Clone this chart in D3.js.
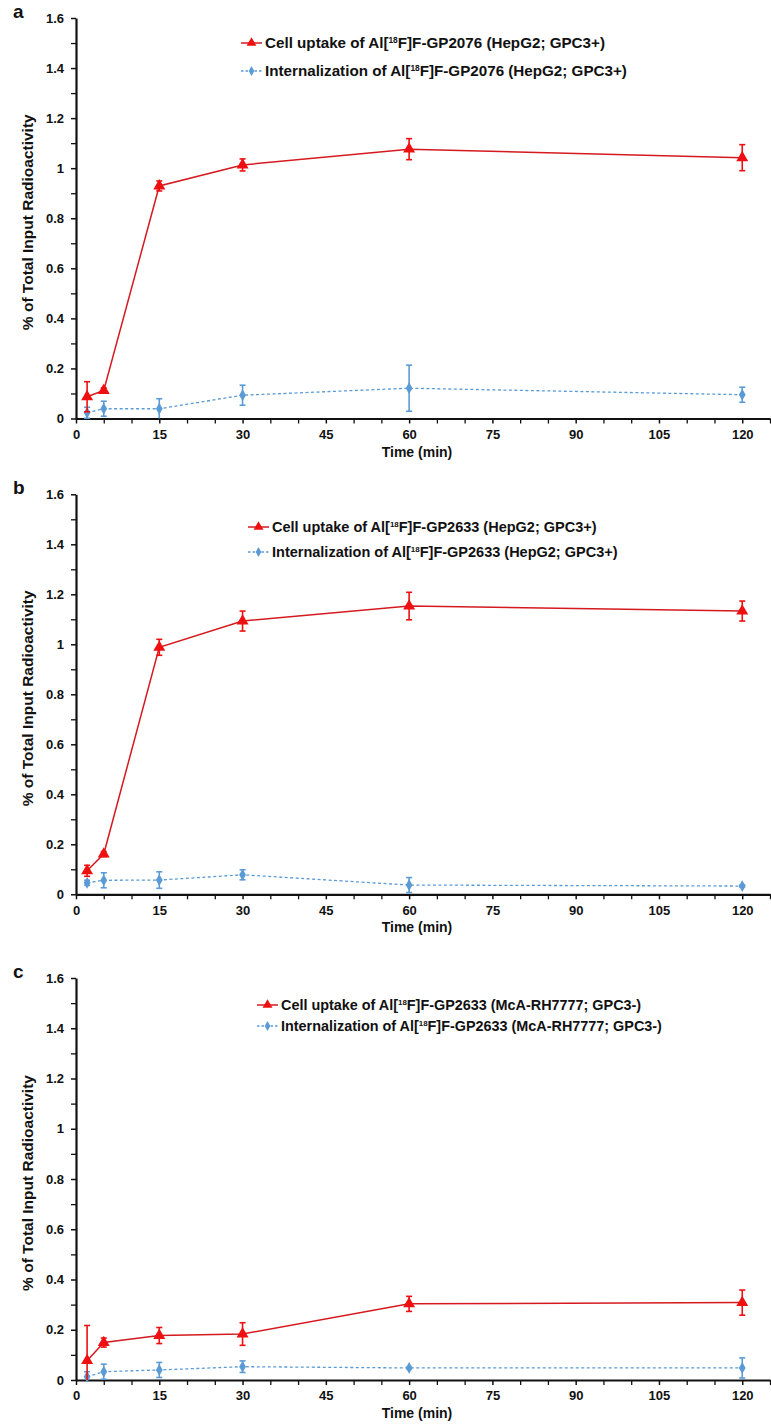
<!DOCTYPE html>
<html>
<head>
<meta charset="utf-8">
<script src="https://cdn.jsdelivr.net/npm/d3@7"></script>
<style>
  html, body { margin: 0; padding: 0; background: #fff; }
  svg { display: block; }
  text { font-family: "Liberation Sans", Arial, sans-serif; font-weight: bold; fill: #111; }
</style>
</head>
<body>
<svg id="chart" width="771" height="1425"></svg>
<script>
// Sampling times (min)
const times = [2, 5, 15, 30, 60, 120];
const xMajorTicks = [0, 15, 30, 45, 60, 75, 90, 105, 120];
const yMajorTicks = [0, 0.2, 0.4, 0.6, 0.8, 1.0, 1.2, 1.4, 1.6];

// Panel a: Al[18F]F-GP2076 in HepG2
const aUptake = [0.087, 0.112, 0.929, 1.013, 1.076, 1.042];
const aUptakeErr = [0.06, 0.01, 0.02, 0.024, 0.042, 0.052];
const aIntern = [0.023, 0.039, 0.039, 0.093, 0.121, 0.095];
const aInternErr = [0.022, 0.03, 0.04, 0.04, 0.092, 0.03];

// Panel b: Al[18F]F-GP2633 in HepG2
const bUptake = [0.094, 0.161, 0.988, 1.093, 1.153, 1.133];
const bUptakeErr = [0.022, 0.01, 0.032, 0.04, 0.055, 0.04];
const bIntern = [0.046, 0.056, 0.057, 0.078, 0.037, 0.033];
const bInternErr = [0.01, 0.03, 0.033, 0.02, 0.03, 0.004];

// Panel c: Al[18F]F-GP2633 in McA-RH7777
const cUptake = [0.077, 0.149, 0.177, 0.183, 0.303, 0.308];
const cUptakeErr = [0.14, 0.018, 0.032, 0.045, 0.03, 0.05];
const cIntern = [0.013, 0.033, 0.04, 0.053, 0.048, 0.048];
const cInternErr = [0.02, 0.03, 0.03, 0.023, 0.003, 0.04];

const panels = [
  { letter: "a", compound: "GP2076", cell: "HepG2; GPC3+",
    uptake: aUptake, uptakeErr: aUptakeErr, intern: aIntern, internErr: aInternErr,
    top: 18, bottom: 418.5, legX: 241, legY: 43, legGap: 28, legSize: 15.2 },
  { letter: "b", compound: "GP2633", cell: "HepG2; GPC3+",
    uptake: bUptake, uptakeErr: bUptakeErr, intern: bIntern, internErr: bInternErr,
    top: 494.3, bottom: 894.3, legX: 248, legY: 527, legGap: 25, legSize: 14.5 },
  { letter: "c", compound: "GP2633", cell: "McA-RH7777; GPC3-",
    uptake: cUptake, uptakeErr: cUptakeErr, intern: cIntern, internErr: cInternErr,
    top: 978, bottom: 1380, legX: 257, legY: 1005, legGap: 21, legSize: 14.4 }
];

const RED_LINE = "#d41a1f";
const RED = "#ee1010";
const BLUE = "#5b9bd5";

const svg = d3.select("#chart");
const left = 76, right = 770;

const x = d3.scaleLinear().domain([0, 125]).range([left, right]);

panels.forEach(p => {
  const g = svg.append("g");
  const y = d3.scaleLinear().domain([0, 1.6]).range([p.bottom, p.top]).clamp(true);

  // minor ticks
  const xMinor = d3.range(5, 126, 5).filter(v => v % 15 !== 0);
  g.append("g").attr("transform", `translate(0,${p.bottom})`)
    .call(d3.axisBottom(x).tickValues(xMinor).tickSize(5).tickSizeOuter(0).tickFormat(""))
    .call(s => s.select(".domain").remove())
    .call(s => s.selectAll("line").attr("stroke", "#111").attr("stroke-width", 1.3));
  const yMinor = [0.1, 0.3, 0.5, 0.7, 0.9, 1.1, 1.3, 1.5];
  g.append("g").attr("transform", `translate(${left},0)`)
    .call(d3.axisLeft(y).tickValues(yMinor).tickSize(5).tickSizeOuter(0).tickFormat(""))
    .call(s => s.select(".domain").remove())
    .call(s => s.selectAll("line").attr("stroke", "#111").attr("stroke-width", 1.3));

  // main axes
  const xa = g.append("g").attr("transform", `translate(0,${p.bottom})`)
    .call(d3.axisBottom(x).tickValues(xMajorTicks).tickSize(5).tickSizeOuter(0).tickPadding(6));
  const ya = g.append("g").attr("transform", `translate(${left},0)`)
    .call(d3.axisLeft(y).tickValues(yMajorTicks).tickSize(5).tickSizeOuter(0).tickPadding(7)
      .tickFormat(d => String(+d.toFixed(1))));
  [xa, ya].forEach(a => {
    a.select(".domain").attr("stroke", "#111").attr("stroke-width", 2.2);
    a.selectAll(".tick line").attr("stroke", "#111").attr("stroke-width", 1.5);
    a.selectAll(".tick text").attr("font-size", 13).attr("font-family", "Liberation Sans, Arial, sans-serif")
      .attr("font-weight", "bold").attr("fill", "#111");
  });

  // axis titles
  g.append("text").attr("x", (left + right) / 2 - 6).attr("y", p.bottom + 38)
    .attr("text-anchor", "middle").attr("font-size", 14).text("Time (min)");
  g.append("text").attr("transform", `translate(33,${(p.top + p.bottom) / 2 + 4}) rotate(-90)`)
    .attr("text-anchor", "middle").attr("font-size", 15.5).text("% of Total Input Radioactivity");

  // panel letter
  g.append("text").attr("x", 13).attr("y", p.top).attr("font-size", 19).text(p.letter);

  // series
  const series = [
    { vals: p.intern, errs: p.internErr, color: BLUE, lineColor: BLUE, dash: "3,2.5",
      sym: d3.symbol(d3.symbolDiamond).size(40), lw: 1.3 },
    { vals: p.uptake, errs: p.uptakeErr, color: RED, lineColor: RED_LINE, dash: null,
      sym: d3.symbol(d3.symbolTriangle).size(62), lw: 1.5 }
  ];
  series.forEach(s => {
    const pts = times.map((t, i) => ({ t, v: s.vals[i], e: s.errs[i] }));
    const line = d3.line().x(d => x(d.t)).y(d => y(d.v));
    g.append("path").datum(pts).attr("d", line).attr("fill", "none")
      .attr("stroke", s.lineColor).attr("stroke-width", s.lw)
      .attr("stroke-dasharray", s.dash);
    const eb = g.append("g").attr("stroke", s.color).attr("stroke-width", 1.6);
    pts.forEach(d => {
      const cx = x(d.t), y1 = y(d.v + d.e), y0 = y(d.v - d.e);
      eb.append("line").attr("x1", cx).attr("x2", cx).attr("y1", y1).attr("y2", y0);
      eb.append("line").attr("x1", cx - 3).attr("x2", cx + 3).attr("y1", y1).attr("y2", y1);
      if (d.v - d.e > 0)
        eb.append("line").attr("x1", cx - 3).attr("x2", cx + 3).attr("y1", y0).attr("y2", y0);
    });
    g.append("g").selectAll("path").data(pts).join("path")
      .attr("transform", d => `translate(${x(d.t)},${y(d.v)})`)
      .attr("d", s.sym).attr("fill", s.color);
  });

  // legend
  const leg = [
    { label: "Cell uptake of ", color: RED, lineColor: RED_LINE, dash: null,
      sym: d3.symbol(d3.symbolTriangle).size(42) },
    { label: "Internalization of ", color: BLUE, lineColor: BLUE, dash: "2.5,2",
      sym: d3.symbol(d3.symbolDiamond).size(28) }
  ];
  leg.forEach((l, i) => {
    const ly = p.legY + i * p.legGap;
    g.append("line").attr("x1", p.legX).attr("x2", p.legX + 21).attr("y1", ly).attr("y2", ly)
      .attr("stroke", l.lineColor).attr("stroke-width", 1.5).attr("stroke-dasharray", l.dash);
    g.append("path").attr("transform", `translate(${p.legX + 10.5},${ly})`)
      .attr("d", l.sym).attr("fill", l.color);
    const t = g.append("text").attr("x", p.legX + 24).attr("y", ly + 5)
      .attr("font-size", p.legSize);
    t.append("tspan").text(l.label + "Al[");
    t.append("tspan").attr("font-size", p.legSize * 0.55).attr("dy", -5.5).text("18");
    t.append("tspan").attr("dy", 5.5).text(`F]F-${p.compound} (${p.cell})`);
  });
});
</script>
</body>
</html>
